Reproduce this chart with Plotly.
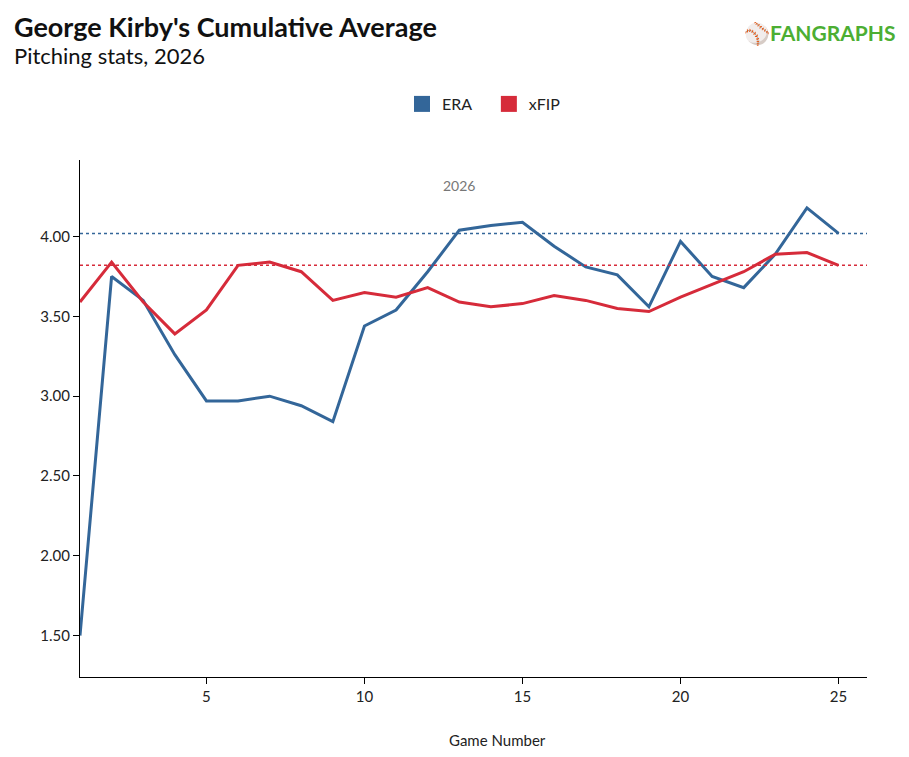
import plotly.graph_objects as go

games = list(range(1, 26))
era = [1.50,3.75,3.60,3.26,2.97,2.97,3.00,2.94,2.84,3.44,3.54,3.78,4.04,4.07,4.09,3.94,3.81,3.76,3.56,3.97,3.75,3.68,3.89,4.18,4.02]
xfip = [3.59,3.84,3.59,3.39,3.54,3.82,3.84,3.78,3.60,3.65,3.62,3.68,3.59,3.56,3.58,3.63,3.60,3.55,3.53,3.62,3.70,3.78,3.89,3.90,3.82]
era_avg = 4.02
xfip_avg = 3.82
blue = "#336699"
red = "#d62b3a"

OFF = 8  # page body margin
W, H = 909 - OFF, 757 - OFF
L, R, T, B = 72, 42, 152, 80
PW, PH = W - L - R, H - T - B
def px(x): return (x - OFF - L) / PW
def py(y): return (H - B - (y - OFF)) / PH

fig = go.Figure()
fig.add_trace(go.Scatter(x=games, y=era, mode="lines", name="ERA", line=dict(color=blue, width=3), showlegend=False))
fig.add_trace(go.Scatter(x=games, y=xfip, mode="lines", name="xFIP", line=dict(color=red, width=3), showlegend=False))
fig.add_trace(go.Scatter(x=[None], y=[None], mode="markers", name="ERA   ",
                         marker=dict(symbol="square", size=18, color=blue)))
fig.add_trace(go.Scatter(x=[None], y=[None], mode="markers", name="xFIP",
                         marker=dict(symbol="square", size=18, color=red)))
fig.add_hline(y=era_avg, line=dict(color=blue, width=1.5, dash="dot"))
fig.add_hline(y=xfip_avg, line=dict(color=red, width=1.5, dash="dot"))

fig.update_layout(
    width=W, height=H, plot_bgcolor="white", paper_bgcolor="white",
    font=dict(family="Lato", color="#222", size=15),
    margin=dict(l=L, r=R, t=T, b=B, autoexpand=False),
    legend=dict(orientation="h", x=px(484), xanchor="center", y=py(104), yanchor="middle",
                font=dict(size=16)),
    xaxis=dict(range=[1, 25.9], tickvals=[5, 10, 15, 20, 25], showgrid=False, zeroline=False,
               showline=True, linecolor="black", linewidth=1, ticks="outside", ticklen=6, tickcolor="black",
               automargin=False),
    yaxis=dict(range=[1.24, 4.48], tickvals=[1.5, 2.0, 2.5, 3.0, 3.5, 4.0], tickformat=".2f",
               showgrid=False, zeroline=False, showline=True, linecolor="black", linewidth=1,
               ticks="outside", ticklen=6, tickcolor="black", automargin=False),
    annotations=[
        dict(text="<b>George Kirby's Cumulative Average</b>", x=px(12), y=py(26), xref="paper", yref="paper",
             xanchor="left", yanchor="middle", showarrow=False, font=dict(size=27, color="#111")),
        dict(text="Pitching stats, 2026", x=px(12), y=py(56), xref="paper", yref="paper",
             xanchor="left", yanchor="middle", showarrow=False, font=dict(size=22, color="#111")),
        dict(text="<b><span style='color:#222'>⚾</span>FANGRAPHS</b>", x=px(897), y=py(34), xref="paper", yref="paper",
             xanchor="right", yanchor="middle", showarrow=False, font=dict(size=21, color="#4cae33")),
        dict(text="Game Number", x=px(497), y=py(740), xref="paper", yref="paper",
             xanchor="center", yanchor="middle", showarrow=False, font=dict(size=15, color="#222")),
        dict(text="2026", x=13.0, y=4.32, xref="x", yref="y", showarrow=False, font=dict(size=14, color="#777")),
    ],
)
fig.write_html("out.html")
